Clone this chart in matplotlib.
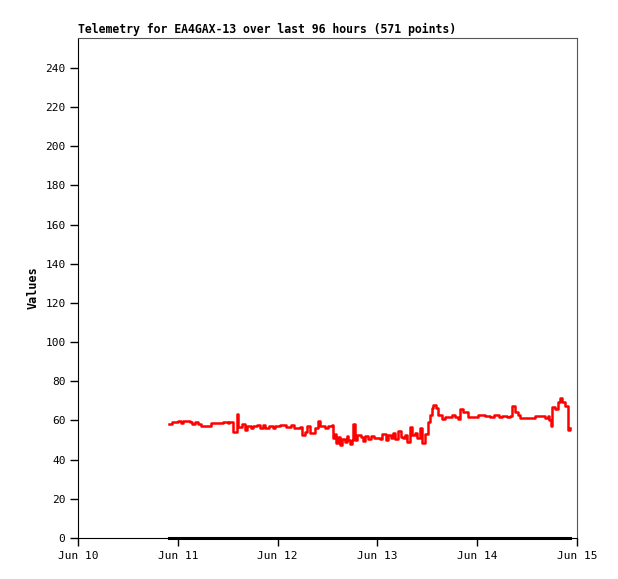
import matplotlib
matplotlib.use("Agg")
import matplotlib.pyplot as plt

# hours since Jun 10 00:00 and telemetry values
heures = [21.9, 22.5, 24, 24.8, 25.3, 26.9, 27.5, 28.2, 28.8, 29.6, 31.3, 32.0,
          33.4, 34.9, 36.0, 36.4, 37.0, 37.3, 38.2, 38.6, 39.4, 40.2, 40.6, 41.5,
          42.1, 43.0, 43.8, 44.5, 44.9, 46.0, 46.8, 47.4, 48.5, 50.0, 51.2, 52.0,
          53.4, 53.9, 54.6, 55.1, 55.8, 57.0, 57.7, 58.3, 59.4, 60.2, 61.1, 61.3,
          61.8, 62.0, 62.5, 63.0, 63.6, 64.2, 64.6, 65.0, 65.5, 65.9, 66.1, 66.6,
          67.2, 68.0, 68.6, 69.0, 69.8, 70.5, 71.2, 72.6, 73.1, 74.0, 74.6, 75.2,
          75.8, 76.3, 77.0, 77.6, 78.2, 78.7, 79.1, 79.8, 80.4, 81.0, 81.6, 82.3,
          82.7, 83.5, 84.2, 84.7, 85.1, 85.4, 86.1, 86.6, 87.5, 88.3, 89.2, 89.9,
          90.7, 91.4, 91.9, 92.6, 93.8, 95.0, 96.2, 97.9, 99.0, 100.0, 101.3, 102.0,
          103.2, 103.9, 104.4, 105.1, 105.8, 106.3, 108.7, 110.0, 111.1, 112.2,
          113.0, 113.3, 113.8, 114.0, 114.7, 115.4, 115.9, 116.4, 117.1, 117.6,
          117.8, 118.3]
valeurs = [58.2, 59.4, 59.8, 58.8, 59.8, 59.4, 58.0, 59.2, 58.0, 57.3, 57.3, 58.7,
           58.7, 59.4, 58.5, 59.4, 59.4, 54.3, 63.3, 56.5, 58.0, 55.0, 57.3, 56.3,
           57.3, 57.8, 56.0, 57.8, 56.0, 57.0, 56.0, 57.0, 57.5, 56.9, 57.5, 56.4,
           56.9, 52.6, 54.0, 57.0, 53.5, 56.0, 59.7, 57.0, 56.3, 57.2, 57.8, 51.0,
           53.0, 48.5, 51.5, 47.5, 50.5, 49.0, 52.0, 50.0, 48.0, 50.0, 58.0, 50.0,
           52.5, 51.5, 49.5, 52.0, 50.5, 52.0, 51.0, 50.5, 53.0, 50.0, 52.5, 51.0,
           53.5, 50.5, 54.6, 51.5, 51.0, 52.5, 49.0, 56.9, 52.5, 53.5, 51.0, 56.0,
           48.5, 53.0, 59.4, 62.8, 66.4, 68.0, 66.4, 62.8, 60.8, 62.0, 62.0, 62.8,
           62.0, 61.0, 65.9, 64.5, 62.0, 62.0, 62.8, 62.5, 62.0, 62.8, 62.0, 62.5,
           62.0, 62.5, 67.4, 64.5, 63.0, 61.1, 61.1, 62.5, 62.5, 61.5, 62.5, 60.0,
           57.0, 67.0, 66.0, 69.6, 71.3, 69.6, 67.6, 67.6, 55.0, 56.0]
zeros = [0 for v in valeurs]

positions = [0, 24, 48, 72, 96, 120]
etiquettes = ["Jun 10", "Jun 11", "Jun 12", "Jun 13", "Jun 14", "Jun 15"]
graduations_y = list(range(0, 241, 20))

fig = plt.figure(figsize=(6.18, 5.79), dpi=100)
ax = fig.add_axes([0.1262, 0.0708, 0.8074, 0.8636])

ax.plot(heures, zeros, color="black", linewidth=2.2, drawstyle="steps-post",
        clip_on=False, zorder=3)
ax.plot(heures, valeurs, color="#ff0000", linewidth=1.8, drawstyle="steps-post")

ax.set_xlim(0, 120)
ax.set_ylim(0, 255.3)
ax.set_xticks(positions)
ax.set_xticklabels(etiquettes)
ax.set_yticks(graduations_y)

for lab in ax.get_xticklabels() + ax.get_yticklabels():
    lab.set_fontfamily("DejaVu Sans Mono")
    lab.set_fontsize(8)
ax.tick_params(direction="out", length=6, width=1, pad=3)

ax.spines["top"].set_color("#555555")
ax.spines["right"].set_color("#555555")
ax.spines["left"].set_color("black")
ax.spines["bottom"].set_color("black")

ax.set_ylabel("Values", fontfamily="DejaVu Sans Mono", fontweight="bold",
              fontsize=8.5, labelpad=4)
fig.text(0.1262, 0.9375, "Telemetry for EA4GAX-13 over last 96 hours (571 points)",
         fontfamily="DejaVu Sans Mono", fontweight="bold", fontsize=8.3,
         ha="left", va="bottom")

fig.savefig("out.png", dpi=100)
